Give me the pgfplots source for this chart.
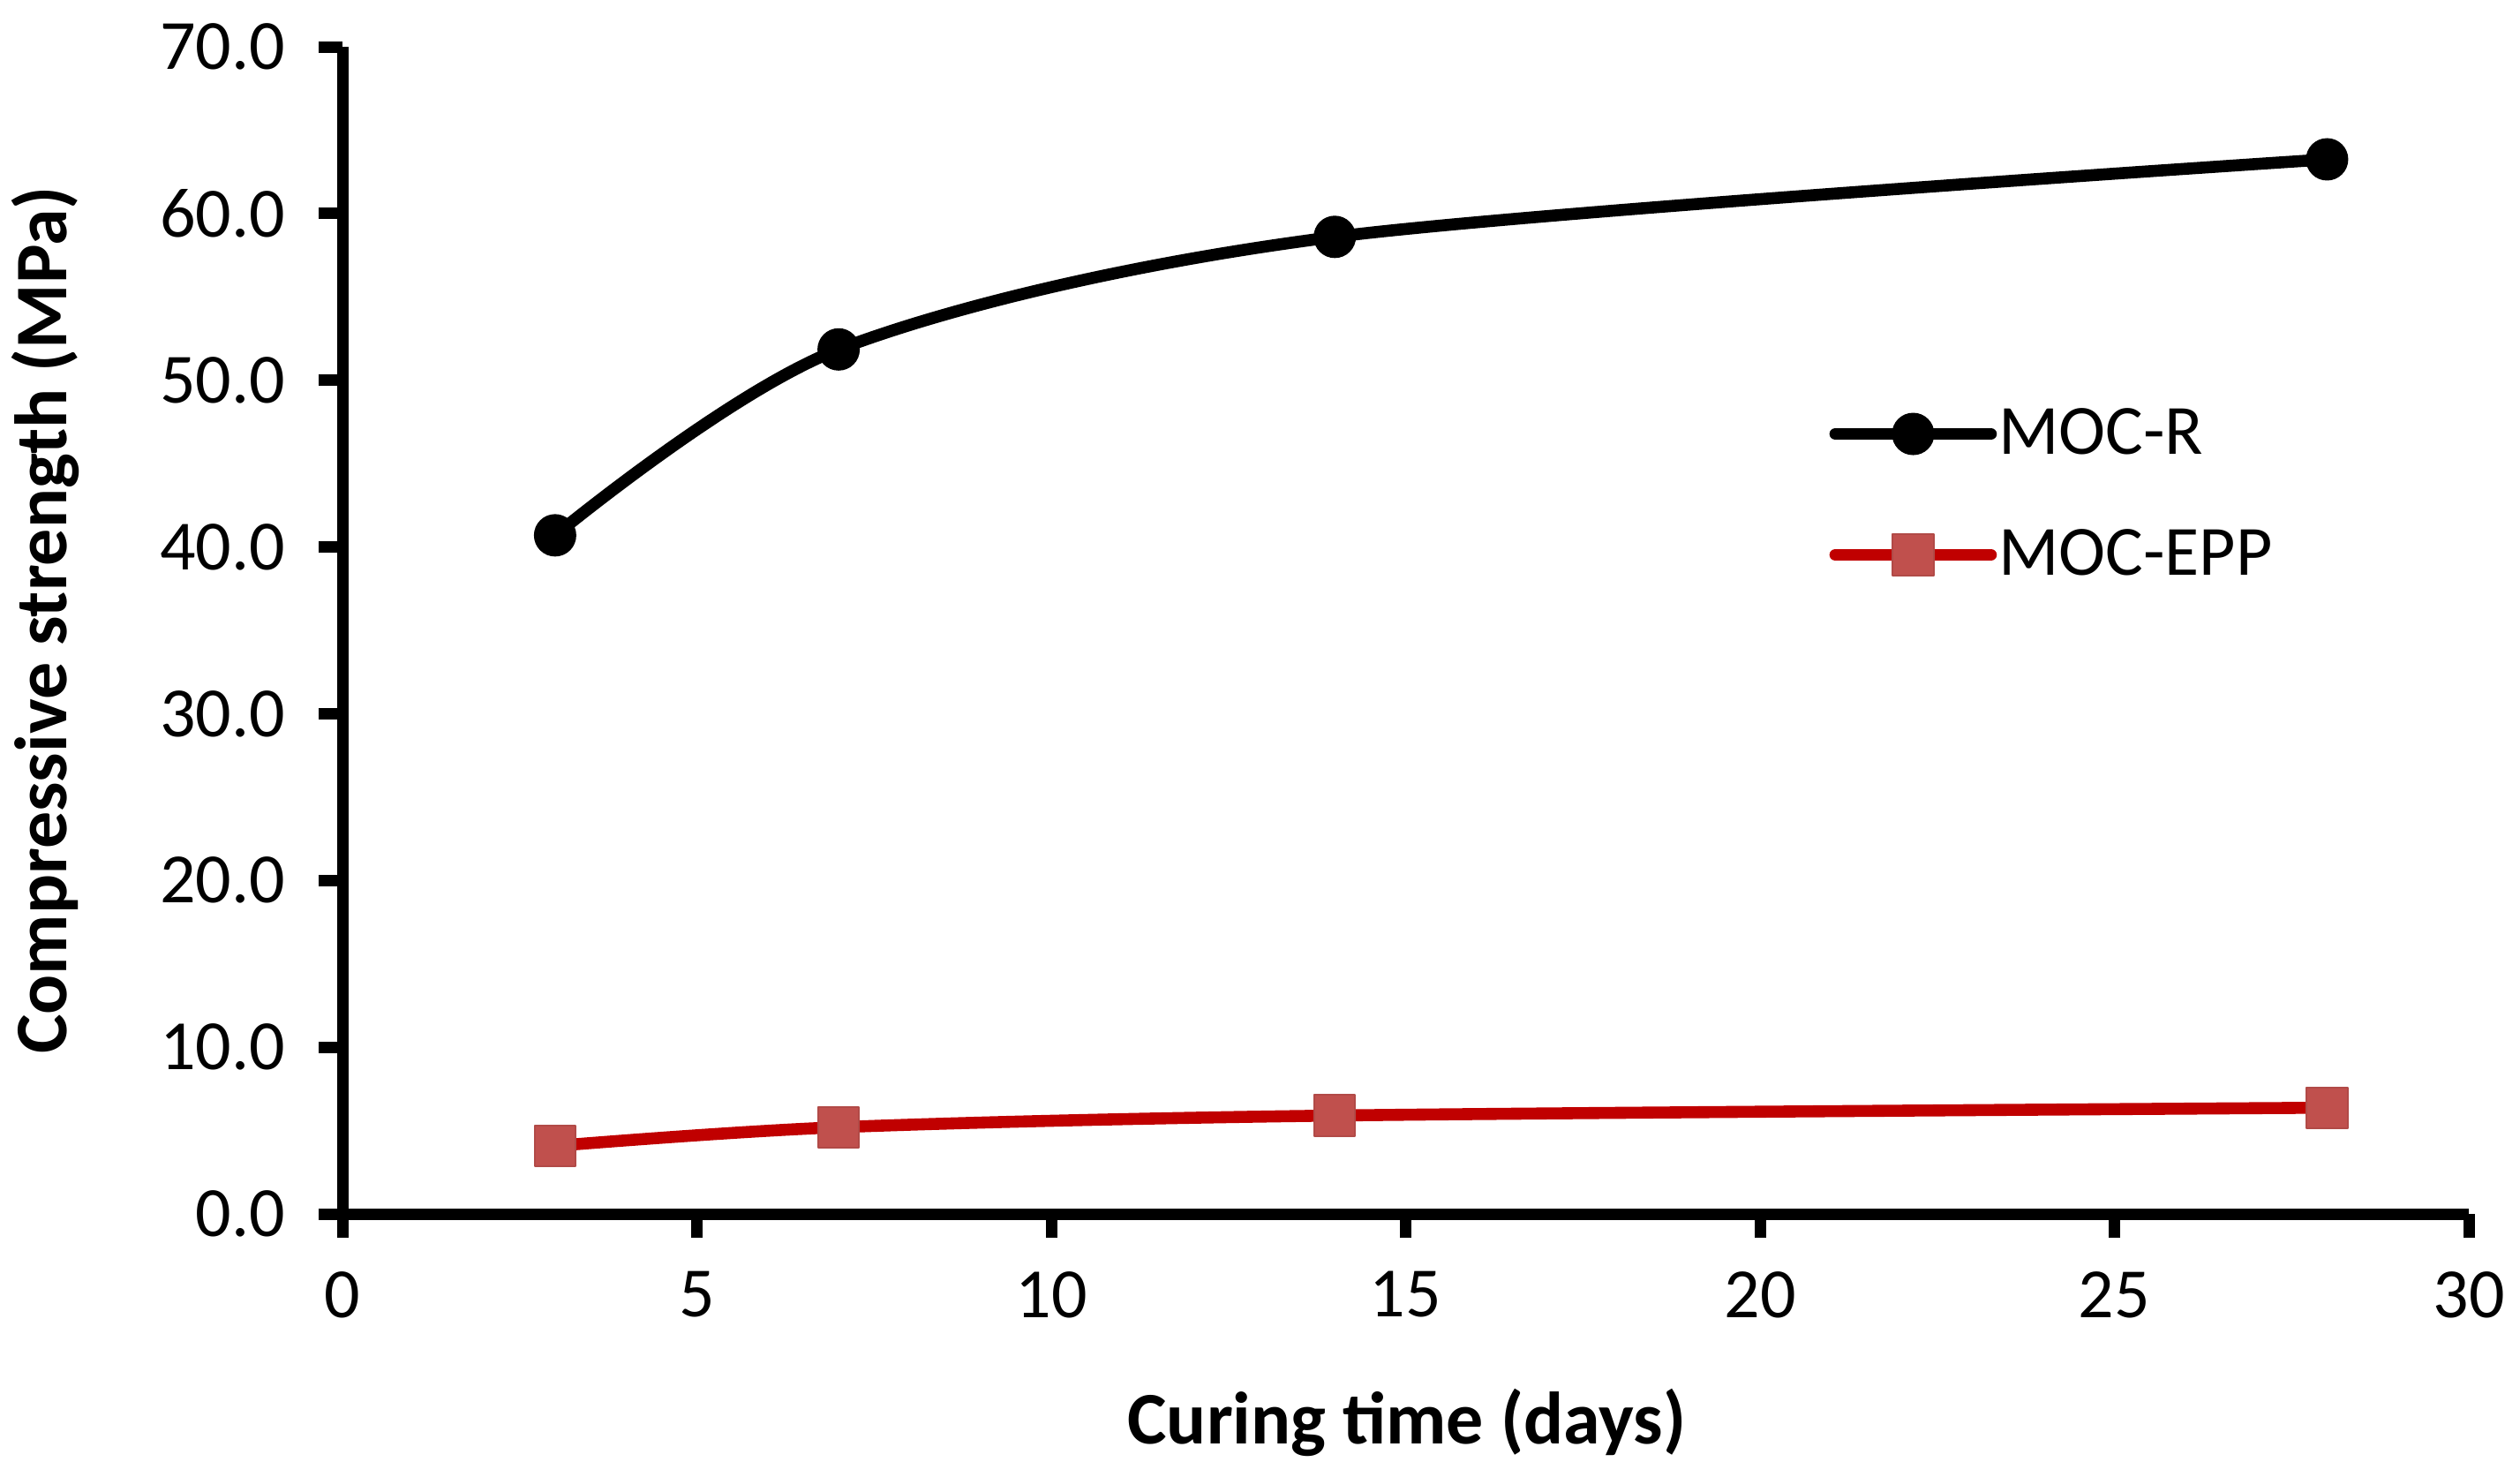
\documentclass[border=0pt]{standalone}
\usepackage{fontspec}
\setmainfont{Carlito}
\usepackage{pgfplots}
\pgfplotsset{compat=1.18}
\definecolor{epline}{HTML}{C00000}
\definecolor{epfill}{HTML}{C0504D}
\newcommand{\fs}{\fontsize{20}{24}\selectfont}
\newcommand{\fl}{\fontsize{21}{25}\selectfont}
\begin{document}
\begin{tikzpicture}
\useasboundingbox (0,0) rectangle (713.75pt,418pt);
\begin{axis}[
  at={(97pt,74.25pt)}, anchor=south west,
  scale only axis, width=602.25pt, height=330.5pt,
  xmin=0, xmax=30, ymin=0, ymax=70,
  axis lines*=left,
  axis line style={line width=3.25pt, black},
  xtick={0,5,...,30}, ytick={0,10,...,70},
  tick align=outside,
  major tick length=6.75pt,
  tick style={line width=3.25pt, black},
  /pgf/number format/assume math mode=true,
  ticklabel style={font=\fs},
  yticklabel style={/pgf/number format/.cd, fixed, fixed zerofill, precision=1, /tikz/.cd, xshift=-6pt},
  xticklabel style={yshift=-6pt},
  xlabel={\textbf{Curing time (days)}},
  ylabel={\textbf{Compressive strength (MPa)}},
  label style={font=\fl},
  xlabel style={at={(axis description cs:0.5006,-0.1967)}, anchor=base},
  ylabel style={at={(axis description cs:-0.1299,0.5088)}, anchor=base, rotate=0},
  clip=false,
  legend cell align=left,
  legend style={draw=none, fill=none, font=\fs, at={(axis description cs:0.694,0.6165)}, anchor=west, row sep=15.75pt,
    /tikz/every odd column/.append style={column sep=-1.5pt}},
  legend image code/.code={\draw[#1, mark repeat=2, mark phase=2] plot coordinates {(0pt,0pt) (22pt,0pt) (44pt,0pt)};},
]
\addplot[black, line width=3.4pt, line cap=round, line join=round, smooth, mark=*, mark size=5.75pt, mark options={solid, fill=black, line width=0.5pt}]
  coordinates {(3,40.7) (7,51.85) (14,58.6) (28,63.25)};
\addlegendentry{MOC-R}
\addplot[epline, line width=3.4pt, line cap=round, line join=round, smooth, mark=square*, mark size=5.8pt, mark options={solid, fill=epfill, draw=epfill!92!black, line width=0.5pt}]
  coordinates {(3,4.08) (7,5.2) (14,5.9) (28,6.37)};
\addlegendentry{MOC-EPP}
\end{axis}
\end{tikzpicture}
\end{document}
